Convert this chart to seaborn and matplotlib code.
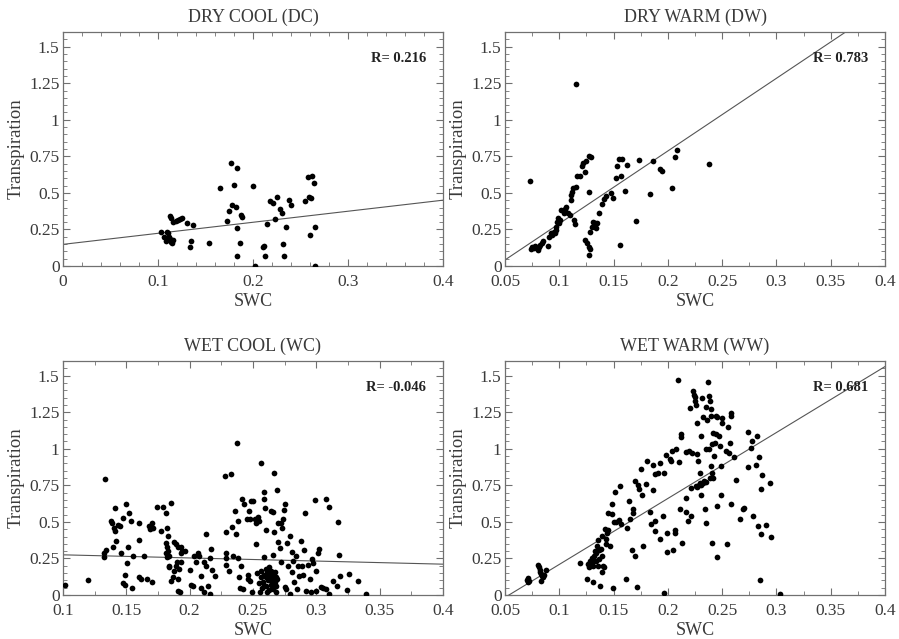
import numpy as np
import pandas as pd
import matplotlib
matplotlib.use("Agg")
import matplotlib.pyplot as plt
from matplotlib.ticker import MultipleLocator, FuncFormatter
import seaborn as sns

# ---- data: soil water content (SWC) vs. transpiration, four climate groups ----
titles = ["DRY COOL (DC)", "DRY WARM (DW)", "WET COOL (WC)", "WET WARM (WW)"]
r_labels = ["R= 0.216", "R= 0.783", "R= -0.046", "R= 0.681"]

dc_swc = [0.1035, 0.106, 0.108, 0.109, 0.111, 0.112, 0.113, 0.114, 0.115, 0.116,
          0.113, 0.114, 0.116, 0.119, 0.121, 0.123, 0.125, 0.130, 0.137, 0.135,
          0.134, 0.154, 0.165, 0.173, 0.175, 0.1765, 0.178, 0.180, 0.182, 0.183,
          0.1835, 0.183, 0.186, 0.187, 0.188, 0.200, 0.202, 0.210, 0.212, 0.213,
          0.215, 0.218, 0.221, 0.223, 0.225, 0.228, 0.230, 0.232, 0.233, 0.235,
          0.238, 0.240, 0.255, 0.258, 0.259, 0.261, 0.260, 0.262, 0.264, 0.265,
          0.265]
dc_tr = [0.230, 0.200, 0.170, 0.234, 0.223, 0.195, 0.184, 0.166, 0.155, 0.177,
         0.340, 0.325, 0.300, 0.310, 0.314, 0.318, 0.325, 0.295, 0.277, 0.173,
         0.132, 0.155, 0.534, 0.311, 0.377, 0.707, 0.416, 0.557, 0.405, 0.670,
         0.257, 0.068, 0.155, 0.348, 0.336, 0.545, 0.002, 0.127, 0.139, 0.068,
         0.284, 0.443, 0.434, 0.318, 0.473, 0.393, 0.360, 0.148, 0.070, 0.266,
         0.450, 0.416, 0.443, 0.610, 0.473, 0.466, 0.211, 0.614, 0.570, 0.270,
         0.002]

dw_swc = [0.073, 0.0737, 0.075, 0.077, 0.078, 0.080, 0.081, 0.082, 0.084, 0.085,
          0.0896, 0.0905, 0.092, 0.0936, 0.095, 0.096, 0.0967, 0.097, 0.098, 0.099,
          0.0997, 0.101, 0.102, 0.104, 0.105, 0.1065, 0.108, 0.1095, 0.1105, 0.111,
          0.112, 0.113, 0.114, 0.1145, 0.115, 0.1157, 0.1166, 0.119, 0.1206, 0.122,
          0.1237, 0.125, 0.127, 0.1274, 0.129, 0.124, 0.1258, 0.127, 0.1274, 0.128,
          0.128, 0.130, 0.131, 0.1326, 0.1335, 0.135, 0.137, 0.1397, 0.141, 0.1427,
          0.1473, 0.1495, 0.152, 0.1535, 0.155, 0.1556, 0.157, 0.1575, 0.1605, 0.1627,
          0.171, 0.173, 0.184, 0.1865, 0.193, 0.195, 0.204, 0.2063, 0.208, 0.238]
dw_tr = [0.582, 0.114, 0.132, 0.120, 0.136, 0.109, 0.127, 0.143, 0.159, 0.173,
         0.139, 0.200, 0.223, 0.211, 0.234, 0.223, 0.245, 0.268, 0.302, 0.325,
         0.291, 0.314, 0.382, 0.359, 0.393, 0.405, 0.364, 0.348, 0.450, 0.484,
         0.507, 0.536, 0.314, 0.286, 1.245, 0.541, 0.614, 0.614, 0.682, 0.705,
         0.641, 0.718, 0.750, 0.507, 0.745, 0.177, 0.159, 0.132, 0.075, 0.114,
         0.230, 0.268, 0.302, 0.295, 0.257, 0.295, 0.359, 0.423, 0.461, 0.477,
         0.500, 0.466, 0.605, 0.682, 0.734, 0.143, 0.616, 0.730, 0.514, 0.689,
         0.307, 0.727, 0.489, 0.716, 0.666, 0.648, 0.536, 0.743, 0.791, 0.700]

wc_swc = [0.1016, 0.120, 0.133, 0.132, 0.132, 0.1337, 0.1376, 0.139, 0.140, 0.1408,
          0.142, 0.1434, 0.1447, 0.1455, 0.1395, 0.1413, 0.147, 0.1495, 0.152, 0.1534,
          0.1513, 0.1505, 0.1487, 0.147, 0.1487, 0.1547, 0.155, 0.160, 0.160, 0.160,
          0.1613, 0.1637, 0.1666, 0.1676, 0.1684, 0.170, 0.171, 0.1705, 0.1745, 0.177,
          0.179, 0.1816, 0.1824, 0.183, 0.181, 0.181, 0.182, 0.183, 0.1837, 0.1824,
          0.1834, 0.184, 0.185, 0.1855, 0.1868, 0.1874, 0.188, 0.1895, 0.191, 0.191,
          0.192, 0.193, 0.194, 0.190, 0.1895, 0.191, 0.1916, 0.193, 0.1934, 0.196,
          0.2005, 0.2013, 0.2026, 0.2034, 0.205, 0.2066, 0.2074, 0.2087, 0.2092, 0.211,
          0.211, 0.2126, 0.2132, 0.2145, 0.2158, 0.2158, 0.2166, 0.218, 0.2197, 0.228,
          0.2324, 0.2284, 0.229, 0.2284, 0.2284, 0.231, 0.2334, 0.234, 0.236, 0.2368,
          0.2376, 0.238, 0.238, 0.239, 0.240, 0.2408, 0.2416, 0.2421, 0.243, 0.245,
          0.246, 0.246, 0.2468, 0.2474, 0.2479, 0.2487, 0.2495, 0.250, 0.2513, 0.252,
          0.2526, 0.254, 0.2547, 0.2553, 0.256, 0.2566, 0.2584, 0.2587, 0.2587, 0.2592,
          0.260, 0.260, 0.2605, 0.261, 0.2618, 0.2624, 0.263, 0.2637, 0.264, 0.2645,
          0.2653, 0.2658, 0.2658, 0.2663, 0.2666, 0.267, 0.2679, 0.2684, 0.2692, 0.270,
          0.270, 0.271, 0.272, 0.2724, 0.2729, 0.2737, 0.2745, 0.2755, 0.275, 0.2763,
          0.2768, 0.2776, 0.279, 0.2795, 0.2808, 0.281, 0.2816, 0.282, 0.2837, 0.2847,
          0.2855, 0.2863, 0.288, 0.2887, 0.2895, 0.2903, 0.2908, 0.2916, 0.2934, 0.2947,
          0.2955, 0.2966, 0.2974, 0.2987, 0.2995, 0.300, 0.301, 0.302, 0.3034, 0.305,
          0.3074, 0.308, 0.3097, 0.310, 0.3132, 0.3163, 0.317, 0.3176, 0.319, 0.3245,
          0.3258, 0.333, 0.339,
          0.256, 0.258, 0.259, 0.262, 0.263, 0.265, 0.266, 0.262, 0.259, 0.264,
          0.261, 0.257, 0.267, 0.263, 0.268, 0.260, 0.255, 0.253, 0.269, 0.266]
wc_tr = [0.070, 0.102, 0.790, 0.261, 0.290, 0.309, 0.507, 0.491, 0.461, 0.439,
         0.370, 0.477, 0.473, 0.290, 0.330, 0.593, 0.525, 0.620, 0.559, 0.507,
         0.330, 0.216, 0.136, 0.080, 0.068, 0.045, 0.264, 0.375, 0.491, 0.120,
         0.109, 0.264, 0.109, 0.473, 0.450, 0.491, 0.455, 0.086, 0.605, 0.439,
         0.605, 0.559, 0.455, 0.405, 0.355, 0.290, 0.330, 0.302, 0.268, 0.257,
         0.200, 0.189, 0.632, 0.098, 0.120, 0.166, 0.364, 0.348, 0.325, 0.030,
         0.023, 0.330, 0.302, 0.227, 0.200, 0.109, 0.177, 0.223, 0.290, 0.302,
         0.173, 0.070, 0.064, 0.264, 0.223, 0.290, 0.264, 0.132, 0.045, 0.018,
         0.227, 0.416, 0.200, 0.064, 0.007, 0.250, 0.314, 0.170, 0.132, 0.814,
         0.825, 0.432, 0.290, 0.250, 0.205, 0.166, 0.468, 0.264, 0.575, 0.416,
         1.041, 0.507, 0.250, 0.120, 0.045, 0.200, 0.659, 0.041, 0.620, 0.518,
         0.136, 0.109, 0.575, 0.098, 0.523, 0.643, 0.023, 0.643, 0.518, 0.352,
         0.495, 0.530, 0.507, 0.018, 0.900, 0.166, 0.257, 0.655, 0.707, 0.593,
         0.177, 0.064, 0.445, 0.150, 0.109, 0.036, 0.189, 0.132, 0.575, 0.166,
         0.080, 0.568, 0.273, 0.832, 0.434, 0.155, 0.120, 0.018, 0.716, 0.491,
         0.364, 0.318, 0.491, 0.223, 0.461, 0.523, 0.580, 0.620, 0.052, 0.041,
         0.355, 0.200, 0.007, 0.405, 0.295, 0.155, 0.230, 0.086, 0.264, 0.041,
         0.200, 0.132, 0.370, 0.200, 0.136, 0.309, 0.564, 0.030, 0.205, 0.109,
         0.018, 0.245, 0.216, 0.650, 0.166, 0.030, 0.284, 0.314, 0.052, 0.045,
         0.041, 0.659, 0.605, 0.007, 0.098, 0.064, 0.502, 0.273, 0.132, 0.034,
         0.143, 0.093, 0.007,
         0.120, 0.090, 0.140, 0.100, 0.160, 0.130, 0.110, 0.180, 0.060, 0.070,
         0.020, 0.050, 0.090, 0.150, 0.060, 0.120, 0.080, 0.150, 0.110, 0.040]

ww_swc = [0.0706, 0.0715, 0.0721, 0.0712, 0.0807, 0.0813, 0.0819, 0.0822, 0.0829, 0.0835,
          0.0838, 0.0853, 0.0859, 0.088, 0.119, 0.1258, 0.1268, 0.1274, 0.1283, 0.129,
          0.130, 0.1305, 0.131, 0.132, 0.131, 0.1326, 0.1335, 0.134, 0.135, 0.136,
          0.136, 0.1366, 0.137, 0.1375, 0.138, 0.139, 0.139, 0.1397, 0.140, 0.141,
          0.142, 0.1427, 0.1433, 0.1443, 0.1452, 0.1452, 0.1467, 0.1483, 0.149, 0.1495,
          0.150, 0.1513, 0.1525, 0.155, 0.156, 0.1565, 0.1611, 0.1627, 0.1642, 0.1648,
          0.1673, 0.168, 0.1682, 0.1694, 0.170, 0.1719, 0.1725, 0.1734, 0.175, 0.1765,
          0.1774, 0.1796, 0.181, 0.1833, 0.1848, 0.1863, 0.1863, 0.1879, 0.188, 0.188,
          0.191, 0.1928, 0.1928, 0.1958, 0.196, 0.1965, 0.198, 0.199, 0.199, 0.2017,
          0.2026, 0.204, 0.2047, 0.2063, 0.207, 0.2078, 0.2093, 0.2102, 0.211, 0.2118,
          0.2124, 0.2133, 0.2164, 0.217, 0.217, 0.2186, 0.2195, 0.2201, 0.221, 0.2216,
          0.2225, 0.2232, 0.224, 0.2247, 0.225, 0.2256, 0.2256, 0.2272, 0.2272, 0.228,
          0.2293, 0.2296, 0.2302, 0.2302, 0.2311, 0.2317, 0.2324, 0.233, 0.234, 0.2348,
          0.2348, 0.2355, 0.2364, 0.2373, 0.238, 0.238, 0.2386, 0.2389, 0.2395, 0.2395,
          0.240, 0.2404, 0.241, 0.241, 0.2416, 0.2419, 0.2425, 0.2434, 0.244, 0.2447,
          0.245, 0.245, 0.2456, 0.2471, 0.2477, 0.2487, 0.2487, 0.2496, 0.250, 0.254,
          0.2548, 0.2557, 0.2563, 0.2572, 0.2579, 0.2579, 0.2579, 0.261, 0.2625, 0.2665,
          0.2692, 0.270, 0.2741, 0.2741, 0.2763, 0.2778, 0.2784, 0.2809, 0.2824, 0.2833,
          0.2839, 0.2849, 0.2855, 0.2861, 0.287, 0.290, 0.2938, 0.2947, 0.3033,
          0.2265, 0.2285, 0.2305, 0.2325, 0.2355]
ww_tr = [0.102, 0.114, 0.098, 0.086, 0.205, 0.189, 0.173, 0.155, 0.143, 0.098,
         0.132, 0.120, 0.136, 0.170, 0.218, 0.109, 0.211, 0.189, 0.234, 0.205,
         0.223, 0.250, 0.200, 0.264, 0.091, 0.302, 0.234, 0.290, 0.336, 0.375,
         0.195, 0.309, 0.245, 0.064, 0.314, 0.405, 0.268, 0.159, 0.200, 0.189,
         0.450, 0.382, 0.348, 0.427, 0.445, 0.564, 0.332, 0.620, 0.552, 0.045,
         0.502, 0.705, 0.500, 0.511, 0.745, 0.484, 0.109, 0.455, 0.643, 0.518,
         0.309, 0.591, 0.564, 0.780, 0.264, 0.052, 0.750, 0.727, 0.859, 0.682,
         0.336, 0.757, 0.916, 0.568, 0.484, 0.718, 0.886, 0.439, 0.507, 0.825,
         0.832, 0.382, 0.905, 0.541, 0.832, 0.014, 0.955, 0.291, 0.427, 0.932,
         0.916, 0.984, 0.309, 0.445, 0.427, 1.000, 1.473, 0.909, 0.591, 1.082,
         1.098, 0.355, 0.977, 0.666, 0.568, 0.507, 0.984, 1.280, 0.541, 0.734,
         0.973, 1.393, 1.370, 1.355, 1.325, 1.302, 0.745, 0.961, 1.173, 0.916,
         0.764, 0.832, 1.086, 0.682, 0.768, 1.348, 1.216, 0.780, 0.591, 1.286,
         0.995, 0.491, 1.200, 1.455, 1.359, 1.000, 1.325, 0.802, 1.223, 0.882,
         1.273, 1.030, 0.832, 0.355, 0.798, 1.109, 0.950, 1.041, 1.223, 1.098,
         0.609, 0.257, 1.218, 1.086, 1.018, 0.882, 0.682, 1.211, 1.173, 0.984,
         0.348, 1.150, 0.973, 1.036, 1.245, 1.223, 0.620, 0.945, 0.784, 0.523,
         0.586, 0.598, 1.114, 0.875, 1.007, 1.052, 0.541, 0.886, 1.086, 0.473,
         0.945, 0.105, 0.727, 0.416, 0.818, 0.477, 0.764, 0.398, 0.007,
         0.740, 0.750, 0.755, 0.765, 0.770]

# least-squares fit of each group: (intercept, slope)
fit_intercept = [0.148, -0.207, 0.296, -0.242]
fit_slope = [0.755, 4.968, -0.213, 4.51]

x_limits = [(0.0, 0.4), (0.05, 0.4), (0.1, 0.4), (0.05, 0.4)]
x_major = [0.1, 0.05, 0.05, 0.05]
x_minor = [0.02, 0.025, 0.025, 0.025]

groups = [(dc_swc, dc_tr), (dw_swc, dw_tr), (wc_swc, wc_tr), (ww_swc, ww_tr)]

# ---- style ----
sns.set_style("ticks")
plt.rcParams["font.family"] = ["Liberation Serif", "DejaVu Serif"]

text_col = "#3a3a3a"
axis_col = "#707070"

fig = plt.figure(figsize=(8.99, 6.39), dpi=100)
W, H = 899, 639
boxes = [(63, 32), (505, 32), (63, 361), (505, 361)]
aw, ah = 380, 234


def fmt(v, pos):
    return f"{v:.2f}".rstrip("0").rstrip(".")


for i, (bx, by) in enumerate(boxes):
    ax = fig.add_axes([bx / W, 1 - (by + ah) / H, aw / W, ah / H])
    xs, ys = groups[i]
    df = pd.DataFrame({"SWC": xs, "Transpiration": ys})
    sns.scatterplot(data=df, x="SWC", y="Transpiration", ax=ax, color="black",
                    s=17, linewidth=0, zorder=3)

    x0, x1 = x_limits[i]
    line_x = np.array([x0, x1])
    line_df = pd.DataFrame({"SWC": line_x,
                            "fit": fit_intercept[i] + fit_slope[i] * line_x})
    sns.lineplot(data=line_df, x="SWC", y="fit", ax=ax, color="#555555",
                 linewidth=0.8, zorder=2)

    ax.set_xlim(x0, x1)
    ax.set_ylim(0, 1.6)
    ax.xaxis.set_major_locator(MultipleLocator(x_major[i]))
    ax.xaxis.set_minor_locator(MultipleLocator(x_minor[i]))
    ax.yaxis.set_minor_locator(MultipleLocator(0.05))
    ax.xaxis.set_major_formatter(FuncFormatter(fmt))
    ax.yaxis.set_major_formatter(FuncFormatter(fmt))
    ax.set_yticks([0, 0.25, 0.5, 0.75, 1.0, 1.25, 1.5])

    ax.tick_params(which="both", direction="in", top=True, right=True,
                   color=axis_col, labelcolor=text_col, labelsize=12.5)
    ax.tick_params(which="major", length=5, width=0.8)
    ax.tick_params(which="minor", length=2.8, width=0.6)
    ax.tick_params(axis="x", which="major", pad=6)
    ax.tick_params(axis="y", which="major", pad=2.5)
    for sp in ax.spines.values():
        sp.set_visible(True)
        sp.set_color(axis_col)
        sp.set_linewidth(0.9)

    ax.set_xlabel("SWC", fontsize=13, color=text_col, labelpad=2)
    ax.set_ylabel("Transpiration", fontsize=13.5, color=text_col, labelpad=3)
    ax.set_title(titles[i], fontsize=13, color=text_col, pad=7)
    ax.text(0.955, 0.885, r_labels[i], transform=ax.transAxes, ha="right",
            va="center", fontsize=10.5, fontweight="bold", color="#222222")
    if ax.get_legend() is not None:
        ax.get_legend().remove()

fig.savefig("out.png", dpi=100)
